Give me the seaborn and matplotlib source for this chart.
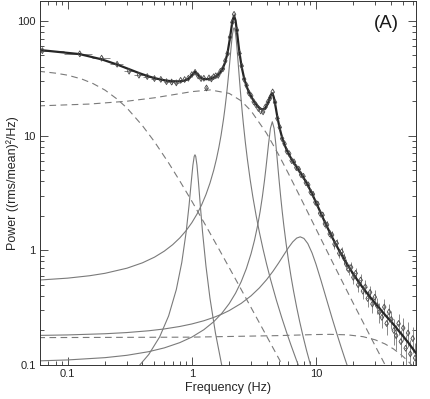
import matplotlib

matplotlib.use("Agg")
import matplotlib.pyplot as plt
import pandas as pd
import seaborn as sns
from matplotlib.ticker import FuncFormatter, NullFormatter


# observed power spectrum (frequency in Hz, power in (rms/mean)^2/Hz)
DATA_FREQ = [
    0.0625, 0.125, 0.1875, 0.25, 0.3125, 0.375, 0.4375, 0.5, 0.5625, 0.625,
    0.6875, 0.75, 0.8125, 0.875, 0.9375, 1.0, 1.0625, 1.125, 1.1875, 1.25,
    1.3125, 1.375, 1.4375, 1.5,
    1.56, 1.63, 1.70, 1.78, 1.86, 1.94, 2.03, 2.12, 2.19, 2.31,
    2.42, 2.52, 2.64, 2.76, 2.88, 3.01, 3.15, 3.29, 3.44, 3.59,
    3.75, 3.92, 4.10, 4.28, 4.48, 4.68, 4.89, 5.11, 5.34, 5.58,
    5.83, 6.09, 6.37, 6.65, 6.95, 7.27, 7.59, 7.93, 8.29, 8.67,
    9.06, 9.46, 9.89, 10.3, 10.8, 11.3, 11.8, 12.3, 12.9, 13.5,
    14.1, 14.7, 15.4, 16.1, 16.8, 17.5, 18.3, 19.2, 20.0, 20.9,
    21.9, 22.9, 23.9, 25.0, 26.1, 27.3, 28.5, 29.8, 31.1, 32.5,
    34.0, 35.5, 37.1, 38.8, 40.5, 42.4, 44.3, 46.3, 48.3, 50.5,
    52.8, 55.2, 57.6, 60.2, 62.9,
]
DATA_POWER = [
    55.0, 51.6, 47.3, 41.9, 36.4, 33.6, 32.7, 31.4, 30.9, 29.5,
    29.3, 28.8, 30.3, 30.8, 31.6, 34.0, 35.6, 33.1, 31.4, 31.6,
    26.0, 31.8, 31.2, 32.6,
    33.2, 33.5, 36.3, 38.2, 44.8, 51.9, 72.0, 97.0, 114.0, 83.0,
    52.0, 40.5, 31.0, 27.4, 23.6, 22.2, 19.7, 18.5, 17.2, 16.4,
    16.1, 17.8, 19.6, 21.3, 24.0, 19.5, 14.1, 11.8, 9.4, 8.5,
    7.3, 6.95, 6.05, 5.9, 5.25, 5.1, 4.55, 4.42, 3.88, 3.72,
    3.21, 3.08, 2.62, 2.53, 2.10, 2.03, 1.70, 1.67, 1.39, 1.36,
    1.13, 1.15, 0.94, 0.97, 0.86, 0.76, 0.68, 0.71, 0.58, 0.63,
    0.50, 0.55, 0.44, 0.48, 0.38, 0.43, 0.34, 0.39, 0.33, 0.29,
    0.26, 0.32, 0.23, 0.29, 0.25, 0.20, 0.18, 0.23, 0.16, 0.21,
    0.14, 0.19, 0.125, 0.17, 0.115,
]
DATA_POWER_ERR = [
    1.9, 1.8, 1.7, 1.5, 1.3, 1.2, 1.2, 1.1, 1.1, 1.0,
    1.0, 1.0, 1.1, 1.1, 1.1, 1.2, 1.2, 1.2, 1.1, 1.1,
    0.9, 1.1, 1.1, 1.1,
    1.0, 1.0, 1.1, 1.1, 1.3, 1.6, 2.2, 2.9, 3.4, 2.5,
    1.6, 1.2, 0.9, 0.8, 0.7, 0.7, 0.6, 0.6, 0.5, 0.5,
    0.5, 0.5, 0.6, 0.6, 0.7, 0.6, 0.45, 0.4, 0.35, 0.33,
    0.3, 0.29, 0.26, 0.26, 0.24, 0.24, 0.22, 0.22, 0.2, 0.2,
    0.18, 0.18, 0.16, 0.16, 0.14, 0.14, 0.12, 0.12, 0.11, 0.11,
    0.1, 0.1, 0.09, 0.09, 0.08, 0.085, 0.075, 0.078, 0.07, 0.075,
    0.065, 0.07, 0.062, 0.066, 0.058, 0.062, 0.055, 0.06, 0.052, 0.056,
    0.05, 0.055, 0.048, 0.052, 0.046, 0.05, 0.044, 0.048, 0.043, 0.047,
    0.042, 0.046, 0.04, 0.044, 0.04,
]
DATA_FREQ_ERR = [
    0.031, 0.031, 0.031, 0.031, 0.031, 0.031, 0.031, 0.031, 0.031, 0.031,
    0.031, 0.031, 0.031, 0.031, 0.031, 0.031, 0.031, 0.031, 0.031, 0.031,
    0.031, 0.031, 0.031, 0.031,
    0.034, 0.036, 0.037, 0.039, 0.041, 0.043, 0.045, 0.047, 0.048, 0.051,
    0.053, 0.055, 0.058, 0.061, 0.063, 0.066, 0.069, 0.072, 0.076, 0.079,
    0.083, 0.086, 0.09, 0.094, 0.099, 0.103, 0.108, 0.112, 0.117, 0.123,
    0.128, 0.134, 0.14, 0.146, 0.153, 0.16, 0.167, 0.174, 0.182, 0.191,
    0.199, 0.208, 0.218, 0.227, 0.238, 0.249, 0.26, 0.271, 0.284, 0.297,
    0.31, 0.323, 0.339, 0.354, 0.37, 0.385, 0.403, 0.422, 0.44, 0.46,
    0.482, 0.504, 0.526, 0.55, 0.574, 0.601, 0.627, 0.656, 0.684, 0.715,
    0.748, 0.781, 0.816, 0.854, 0.891, 0.933, 0.975, 1.019, 1.063, 1.111,
    1.162, 1.214, 1.267, 1.324, 1.384,
]

# best-fit total model
MODEL_FREQ = [
    0.058, 0.0625, 0.125, 0.1875, 0.25, 0.3125, 0.375, 0.4375, 0.5, 0.5625,
    0.625, 0.6875, 0.75, 0.8125, 0.875, 0.9375, 1.0, 1.0625, 1.125, 1.1875,
    1.25, 1.3125, 1.375, 1.4375, 1.5,
    1.56, 1.63, 1.70, 1.78, 1.86, 1.94, 2.03, 2.07, 2.13, 2.19,
    2.25, 2.31, 2.38, 2.42, 2.52, 2.64, 2.76, 2.88, 3.01, 3.15,
    3.29, 3.44, 3.59, 3.75, 3.92, 4.10, 4.28, 4.40, 4.48, 4.58,
    4.68, 4.89, 5.11, 5.34, 5.58, 5.83, 6.09, 6.37, 6.65, 6.95,
    7.27, 7.59, 7.93, 8.29, 8.67, 9.06, 9.46, 9.89, 10.3, 10.8,
    11.3, 11.8, 12.3, 12.9, 13.5, 14.1, 14.7, 15.4, 16.1, 16.8,
    17.5, 18.3, 19.2, 20.0, 20.9, 21.9, 22.9, 23.9, 25.0, 26.1,
    27.3, 28.5, 29.8, 31.1, 32.5, 34.0, 35.5, 37.1, 38.8, 40.5,
    42.4, 44.3, 46.3, 48.3, 50.5, 52.8, 55.2, 57.6, 60.2, 62.9, 64.5,
]
MODEL_TOTAL = [
    55.6, 55.4, 51.3, 46.2, 41.6, 37.9, 35.1, 33.1, 31.7, 30.8,
    30.1, 29.8, 29.7, 29.7, 30.2, 31.2, 33.6, 36.1, 33.7, 31.8,
    31.1, 31.0, 31.2, 31.5, 32.1,
    32.8, 34.0, 35.7, 38.8, 43.9, 52.8, 70.9, 82.6, 101.5, 110.7,
    100.7, 81.0, 61.1, 52.9, 39.7, 31.5, 26.9, 24.0, 21.8, 20.1,
    18.8, 17.8, 17.1, 16.9, 17.4, 19.1, 22.0, 23.3, 23.1, 21.5,
    19.1, 14.5, 11.5, 9.58, 8.34, 7.45, 6.77, 6.21, 5.76, 5.36,
    4.98, 4.65, 4.31, 3.97, 3.63, 3.30, 2.99, 2.69, 2.44, 2.18,
    1.95, 1.76, 1.60, 1.44, 1.30, 1.19, 1.09, 0.993, 0.912, 0.842,
    0.781, 0.722, 0.665, 0.620, 0.579, 0.537, 0.502, 0.471, 0.443, 0.416,
    0.391, 0.371, 0.347, 0.330, 0.313, 0.294, 0.279, 0.264, 0.250, 0.238,
    0.224, 0.212, 0.199, 0.189, 0.178, 0.167, 0.158, 0.148, 0.139, 0.130, 0.126,
]

# broad (dashed) components
BLN_LOW_FREQ = [0.058, 0.08, 0.1, 0.13, 0.16, 0.2, 0.25, 0.3, 0.4, 0.5,
                0.65, 0.8, 1.0, 1.3, 1.7, 2.2, 3.0, 4.0, 5.5, 7.0]
BLN_LOW_POWER = [36.4, 35.0, 33.6, 31.1, 28.4, 24.9, 20.8, 17.4, 12.2, 8.84,
                 5.78, 4.02, 2.68, 1.63, 0.971, 0.586, 0.317, 0.179, 0.095, 0.059]

BLN_MID_FREQ = [0.058, 0.15, 0.3, 0.5, 0.75, 1.0, 1.41, 2.0, 2.5, 3.0, 4.0, 5.0,
                6.0, 7.5, 9.0, 11.0, 13.5, 16.0, 20.0, 25.0, 30.0, 38.0, 48.0, 64.5]
BLN_MID_POWER = [18.15, 18.83, 19.93, 21.35, 22.94, 24.16, 25.0, 23.32, 20.07, 16.42,
                 10.48, 6.825, 4.67, 2.886, 1.938, 1.25, 0.801, 0.556, 0.345, 0.216,
                 0.147, 0.090, 0.0556, 0.0304]

BLN_HIGH_FREQ = [0.058, 1.0, 5.0, 10.0, 13.0, 18.0, 24.0, 30.0, 36.0, 42.0,
                 48.0, 54.0, 60.0, 64.5]
BLN_HIGH_POWER = [0.1733, 0.1749, 0.1804, 0.1843, 0.185, 0.1832, 0.1765, 0.1658,
                  0.1527, 0.1384, 0.1242, 0.1106, 0.0982, 0.0898]

# peaked (solid) components
QPO_1HZ_FREQ = [0.38, 0.45, 0.55, 0.65, 0.75, 0.83, 0.9, 0.95, 0.99, 1.02, 1.045,
                1.06, 1.075, 1.1, 1.13, 1.17, 1.22, 1.3, 1.4, 1.55, 1.75, 1.9]
QPO_1HZ_POWER = [0.0998, 0.1236, 0.1755, 0.2677, 0.4549, 0.7836, 1.442, 2.467,
                 3.974, 5.518, 6.585, 6.8, 6.585, 5.518, 3.974, 2.467, 1.442,
                 0.7265, 0.3824, 0.1897, 0.097, 0.0658]

QPO_2HZ_FREQ = [0.058, 0.1, 0.15, 0.2, 0.3, 0.4, 0.5, 0.6, 0.7, 0.8,
                0.9, 1.0, 1.1, 1.2, 1.3, 1.4, 1.5, 1.58, 1.65, 1.72,
                1.8, 1.85, 1.9, 1.95, 2.0, 2.07, 2.1, 2.13, 2.16, 2.19,
                2.22, 2.25, 2.28, 2.31, 2.34, 2.38, 2.43, 2.48, 2.54, 2.6,
                2.7, 2.8, 2.95, 3.1, 3.3, 3.5, 3.75, 4.0, 4.3, 4.8,
                5.3, 5.8, 6.3, 7.0, 8.0]
QPO_2HZ_POWER = [0.5496, 0.5718, 0.600, 0.6302, 0.698, 0.7776, 0.871, 0.9832, 1.118, 1.282,
                 1.485, 1.740, 2.066, 2.492, 3.062, 3.85, 4.978, 6.269, 7.844, 10.06,
                 13.89, 17.4, 22.25, 29.06, 38.68, 58.06, 67.95, 77.35, 84.36, 87.0,
                 84.36, 77.35, 67.95, 58.06, 48.91, 38.68, 29.06, 22.25, 16.6, 12.76,
                 8.699, 6.269, 4.145, 2.933, 1.994, 1.441, 1.021, 0.7607, 0.561, 0.3675,
                 0.2592, 0.1925, 0.1486, 0.1085, 0.0744]

QPO_4HZ_FREQ = [0.058, 0.1, 0.2, 0.3, 0.45, 0.6, 0.8, 1.0, 1.25, 1.5,
                1.75, 2.0, 2.25, 2.5, 2.75, 3.0, 3.2, 3.4, 3.55, 3.7,
                3.85, 3.95, 4.05, 4.15, 4.3, 4.45, 4.6, 4.75, 4.85, 4.95,
                5.05, 5.2, 5.35, 5.5, 5.75, 6.0, 6.3, 6.6, 7.0, 7.4,
                7.9, 8.4, 9.5, 10.5]
QPO_4HZ_POWER = [0.1086, 0.1107, 0.1159, 0.1215, 0.1307, 0.141, 0.1567, 0.1751, 0.2031, 0.2383,
                 0.2835, 0.3427, 0.4224, 0.533, 0.6925, 0.9335, 1.226, 1.673, 2.177, 2.923,
                 4.062, 5.151, 6.6, 8.448, 11.57, 13.2, 11.57, 8.448, 6.6, 5.151,
                 4.062, 2.923, 2.177, 1.673, 1.142, 0.8242, 0.5895, 0.4416, 0.317, 0.2383,
                 0.1751, 0.134, 0.0823, 0.0575]

HUMP_FREQ = [0.058, 0.1, 0.2, 0.3, 0.45, 0.6, 0.8, 1.0, 1.25, 1.5,
             1.75, 2.0, 2.5, 3.0, 3.5, 4.0, 4.5, 5.0, 5.5, 6.0,
             6.5, 7.0, 7.47, 8.0, 8.6, 9.3, 10.0, 11.0, 12.0, 13.5,
             15.0, 16.0, 17.0, 18.0, 19.5]
HUMP_POWER = [0.1811, 0.1829, 0.1873, 0.1918, 0.1988, 0.2062, 0.2167, 0.2279, 0.2431, 0.2598,
              0.278, 0.2981, 0.3446, 0.401, 0.4699, 0.5537, 0.6548, 0.7741, 0.9094, 1.052,
              1.183, 1.278, 1.31, 1.269, 1.144, 0.949, 0.7589, 0.5428, 0.3937, 0.2556,
              0.1763, 0.1416, 0.1159, 0.0965, 0.0752]

Y_TICKS = [0.1, 1, 10, 100]
X_TICKS = [0.1, 1, 10]

COMPONENT_GREY = "#7a7a7a"
DASH = (0, (6, 4))


def plot_component(ax, freq, power, dashed):
    sns.lineplot(
        x=freq,
        y=power,
        ax=ax,
        color=COMPONENT_GREY,
        linewidth=0.8,
        linestyle=DASH if dashed else "-",
        errorbar=None,
        sort=False,
        zorder=1,
    )


def main() -> None:
    sns.set_theme(style="ticks")
    plt.rcParams["font.family"] = ["Liberation Sans", "DejaVu Sans"]

    fig = plt.figure(figsize=(4.31, 3.99), dpi=100)
    ax = fig.add_axes([40 / 431, 34 / 399, 376 / 431, 364 / 399])
    ax.set_xscale("log")
    ax.set_yscale("log")

    for freq, power in [
        (BLN_LOW_FREQ, BLN_LOW_POWER),
        (BLN_MID_FREQ, BLN_MID_POWER),
        (BLN_HIGH_FREQ, BLN_HIGH_POWER),
    ]:
        plot_component(ax, freq, power, dashed=True)

    for freq, power in [
        (QPO_1HZ_FREQ, QPO_1HZ_POWER),
        (QPO_2HZ_FREQ, QPO_2HZ_POWER),
        (QPO_4HZ_FREQ, QPO_4HZ_POWER),
        (HUMP_FREQ, HUMP_POWER),
    ]:
        plot_component(ax, freq, power, dashed=False)

    data = pd.DataFrame(
        {
            "freq": DATA_FREQ,
            "power": DATA_POWER,
            "power_err": DATA_POWER_ERR,
            "freq_err": DATA_FREQ_ERR,
        }
    )
    ax.errorbar(
        data["freq"],
        data["power"],
        yerr=data["power_err"],
        xerr=data["freq_err"],
        fmt="none",
        ecolor="#8a8a8a",
        elinewidth=0.7,
        capsize=0,
        zorder=2,
    )

    sns.lineplot(
        x=MODEL_FREQ,
        y=MODEL_TOTAL,
        ax=ax,
        color="#262626",
        linewidth=1.6,
        errorbar=None,
        sort=False,
        zorder=3,
    )

    sns.scatterplot(
        data=data,
        x="freq",
        y="power",
        ax=ax,
        marker="d",
        s=9,
        facecolor="none",
        edgecolor="#4a4a4a",
        linewidth=0.6,
        zorder=4,
    )

    ax.set_xticks(X_TICKS)
    ax.set_yticks(Y_TICKS)
    label_fmt = FuncFormatter(lambda v, _: f"{v:g}")
    ax.xaxis.set_major_formatter(label_fmt)
    ax.yaxis.set_major_formatter(label_fmt)
    ax.xaxis.set_minor_formatter(NullFormatter())
    ax.yaxis.set_minor_formatter(NullFormatter())
    ax.set_xlim(0.0598, 64)
    ax.set_ylim(0.1, 149)

    ax.tick_params(which="both", direction="in", top=True, right=True,
                   color="#333333", width=0.6)
    ax.tick_params(which="major", length=6, labelsize=8, pad=3)
    ax.tick_params(which="minor", length=3)
    for spine in ax.spines.values():
        spine.set_linewidth(0.7)
        spine.set_color("#333333")

    ax.set_xlabel("Frequency (Hz)", fontsize=9, labelpad=2)
    ax.set_ylabel("Power ((rms/mean)²/Hz)", fontsize=9)
    ax.yaxis.set_label_coords(-0.055, 0.5)

    ax.text(0.922, 0.937, "(A)", transform=ax.transAxes, fontsize=13.5,
            ha="center", va="center", color="#1a1a1a")

    fig.savefig("out.png", dpi=100)
    plt.close(fig)


if __name__ == "__main__":
    main()
